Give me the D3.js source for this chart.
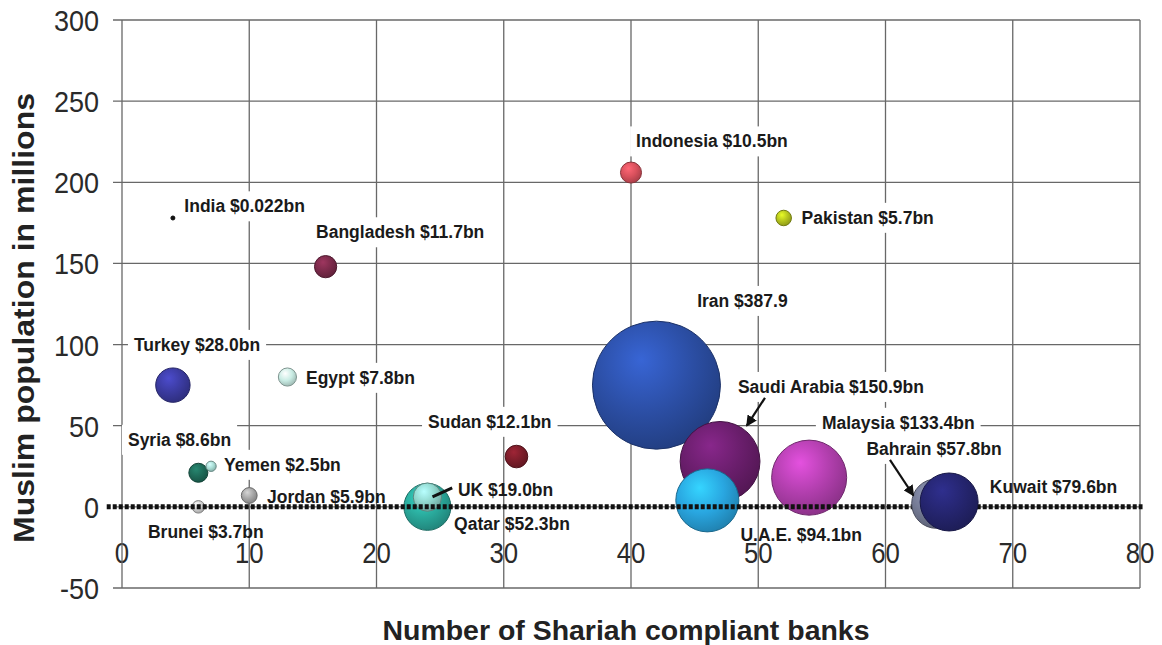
<!DOCTYPE html>
<html><head><meta charset="utf-8">
<script src="https://cdn.jsdelivr.net/npm/d3@7"></script>
<style>
body{margin:0;background:#fff;}
svg{display:block;font-family:"Liberation Sans",Arial,sans-serif;}
</style>
</head><body><svg id="chart" width="1162" height="645"></svg>
<script>
// ---------- data ----------
const countries = ["India","Bangladesh","Indonesia","Pakistan","Iran","Turkey","Egypt","Syria","Yemen","Jordan","Brunei","Sudan","Qatar","UK","Saudi Arabia","Malaysia","U.A.E.","Bahrain","Kuwait"];
const banks      = [4, 16, 40, 52, 42, 4, 13, 6, 7, 10, 6, 31, 24, 24, 47, 54, 46, 64, 65];
const population = [178, 148, 206, 178, 75, 75, 80, 21, 25, 7, 0, 31, 0, 6, 28, 18, 4, 2, 3];
const assets     = [0.022, 11.7, 10.5, 5.7, 387.9, 28.0, 7.8, 8.6, 2.5, 5.9, 3.7, 12.1, 52.3, 19.0, 150.9, 133.4, 94.1, 57.8, 79.6];
const labels     = ["India $0.022bn","Bangladesh $11.7bn","Indonesia $10.5bn","Pakistan $5.7bn","Iran $387.9","Turkey $28.0bn","Egypt $7.8bn","Syria $8.6bn","Yemen $2.5bn","Jordan $5.9bn","Brunei $3.7bn","Sudan $12.1bn","Qatar $52.3bn","UK $19.0bn","Saudi Arabia $150.9bn","Malaysia $133.4bn","U.A.E. $94.1bn","Bahrain $57.8bn","Kuwait $79.6bn"];
const xTicks = [0,10,20,30,40,50,60,70,80];
const yTicks = [300,250,200,150,100,50,0,-50];
const xTitle = "Number of Shariah compliant banks";
const yTitle = "Muslim population in millions";

// label anchors (data units: start x, baseline y)
const labelX = [4.9, 15.25, 40.4, 53.4, 45.2, 0.94, 14.46, 0.47, 8.02, 11.4, 2.04, 24.05, 26.1, 26.4, 48.4, 55.0, 48.6, 58.5, 68.2];
const labelY = [181.5, 165.5, 221.5, 174.4, 123.2, 96.1, 75.8, 37.6, 22.2, 2.5, -19.1, 48.7, -14.2, 6.8, 70.2, 48.1, -21, 32.0, 8.6];
// arrows (data units)
const arrows = [
  {from:[50.53, 67.2], to:[49.1, 50.0], head:true},
  {from:[60.35, 29.0], to:[62.2, 7.0], head:true},
  {from:[25.95, 11.7], to:[24.4, 6.2], head:false}
];
const colors = ["#111111","#7b2a4a","#d8505c","#b5c41e","#2c4fa6","#3b3ba0","#c9ece4","#1e6a58","#a8ddd5","#a6a6a6","#cfcfcf","#7c1d2a","#2aaa9c","#8fd6cc","#6a1e6c","#b23fae","#29a6e0","#757b95","#25256f"];
const frontOfZeroLine = ["Bahrain","Kuwait"];
// labels whose white box would hide the zero line
const noBox = ["Jordan","UK","Qatar","U.A.E.","Brunei","Kuwait"];

// ---------- chart ----------
const svg = d3.select("#chart");
const x = d3.scaleLinear().domain([0,80]).range([122,1140]);
const y = d3.scaleLinear().domain([-50,300]).range([588,20]);
const r = d3.scaleSqrt().domain([0,387.9]).range([0,64]);

const data = countries.map((c,i)=>({name:c, x:banks[i], y:population[i], v:assets[i], label:labels[i], lx:labelX[i], ly:labelY[i], color:colors[i], i}));

// defs: gradients
const defs = svg.append("defs");
data.forEach(d=>{
  const g = defs.append("radialGradient").attr("id","g"+d.i).attr("cx","40%").attr("cy","35%").attr("r","68%").attr("fx","38%").attr("fy","30%");
  const c = d3.color(d.color);
  g.append("stop").attr("offset","0%").attr("stop-color", c.brighter(0.7));
  g.append("stop").attr("offset","55%").attr("stop-color", c);
  g.append("stop").attr("offset","100%").attr("stop-color", c.darker(0.7));
});
defs.append("marker").attr("id","arrowhead").attr("viewBox","0 0 10 10").attr("refX",9).attr("refY",5)
  .attr("markerWidth",5).attr("markerHeight",5).attr("orient","auto")
  .append("path").attr("d","M0,0 L10,5 L0,10 z").attr("fill","#111");

// tick labels (under grid)
svg.append("g").selectAll("text").data(xTicks).join("text")
  .attr("transform", d=>`translate(${x(d)},563) scale(0.86,1)`)
  .attr("text-anchor","middle").attr("font-size",30).attr("fill","#2a2a2a").text(d=>d);
svg.append("g").selectAll("text").data(yTicks).join("text")
  .attr("transform", d=>`translate(99,${y(d)+11}) scale(0.9,1)`)
  .attr("text-anchor","end").attr("font-size",30).attr("fill","#2a2a2a").text(d=>d);

// grid
const grid = svg.append("g").attr("stroke","#686868").attr("stroke-width",1.3);
grid.selectAll("line.v").data(xTicks).join("line").attr("class","v")
  .attr("x1",d=>x(d)).attr("x2",d=>x(d)).attr("y1",y(300)).attr("y2",y(-50));
grid.selectAll("line.h").data(yTicks).join("line").attr("class","h")
  .attr("x1",x(0)-9).attr("x2",x(80)).attr("y1",d=>y(d)).attr("y2",d=>y(d));

// label white boxes (behind marks)
const boxG = svg.append("g");
const textG = svg.append("g").attr("id","txt"); // placeholder, moved to top later

// bubbles behind the zero line
function drawBubbles(sel){
  sel.selectAll("circle").data(d=>d).join("circle")
    .attr("cx",d=>x(d.x)).attr("cy",d=>y(d.y))
    .attr("r",d=>Math.max(2, r(d.v)))
    .attr("fill",d=>d.v<0.1? d.color : `url(#g${d.i})`)
    .attr("stroke",d=>d3.color(d.color).darker(1.3))
    .attr("stroke-width",1);
}
svg.append("g").datum(data.filter(d=>!frontOfZeroLine.includes(d.name))).call(drawBubbles);

// zero dotted line
svg.append("line").attr("x1",x(-1.2)).attr("x2",x(80.2)).attr("y1",y(0)).attr("y2",y(0))
  .attr("stroke","#111").attr("stroke-width",5).attr("stroke-dasharray","4,2");

svg.append("g").datum(data.filter(d=>frontOfZeroLine.includes(d.name))).call(drawBubbles);

// label texts on top
textG.raise();
data.forEach(d=>{
  const t = textG.append("text").attr("x",x(d.lx)).attr("y",y(d.ly))
    .attr("font-size",17.5).attr("font-weight","bold").attr("fill","#1a1a1a").text(d.label);
  if(!noBox.includes(d.name)){
    const b = t.node().getBBox();
    boxG.append("rect").attr("x",b.x-6).attr("y",b.y-5).attr("width",b.width+12).attr("height",b.height+10).attr("fill","#fff");
  }
});

// arrows
svg.append("g").selectAll("line").data(arrows).join("line")
  .attr("x1",d=>x(d.from[0])).attr("y1",d=>y(d.from[1]))
  .attr("x2",d=>x(d.to[0])).attr("y2",d=>y(d.to[1]))
  .attr("stroke","#111").attr("stroke-width",d=>d.head?2.2:3)
  .attr("marker-end",d=>d.head?"url(#arrowhead)":null);

// axis titles
svg.append("text").attr("x",626).attr("y",640).attr("text-anchor","middle")
  .attr("font-size",28).attr("font-weight","bold").attr("fill","#222")
  .attr("textLength",487).attr("lengthAdjust","spacingAndGlyphs").text(xTitle);
svg.append("text").attr("transform","translate(34,318) rotate(-90)").attr("text-anchor","middle")
  .attr("font-size",29).attr("font-weight","bold").attr("fill","#222")
  .attr("textLength",450).attr("lengthAdjust","spacingAndGlyphs").text(yTitle);
</script>
</body></html>
